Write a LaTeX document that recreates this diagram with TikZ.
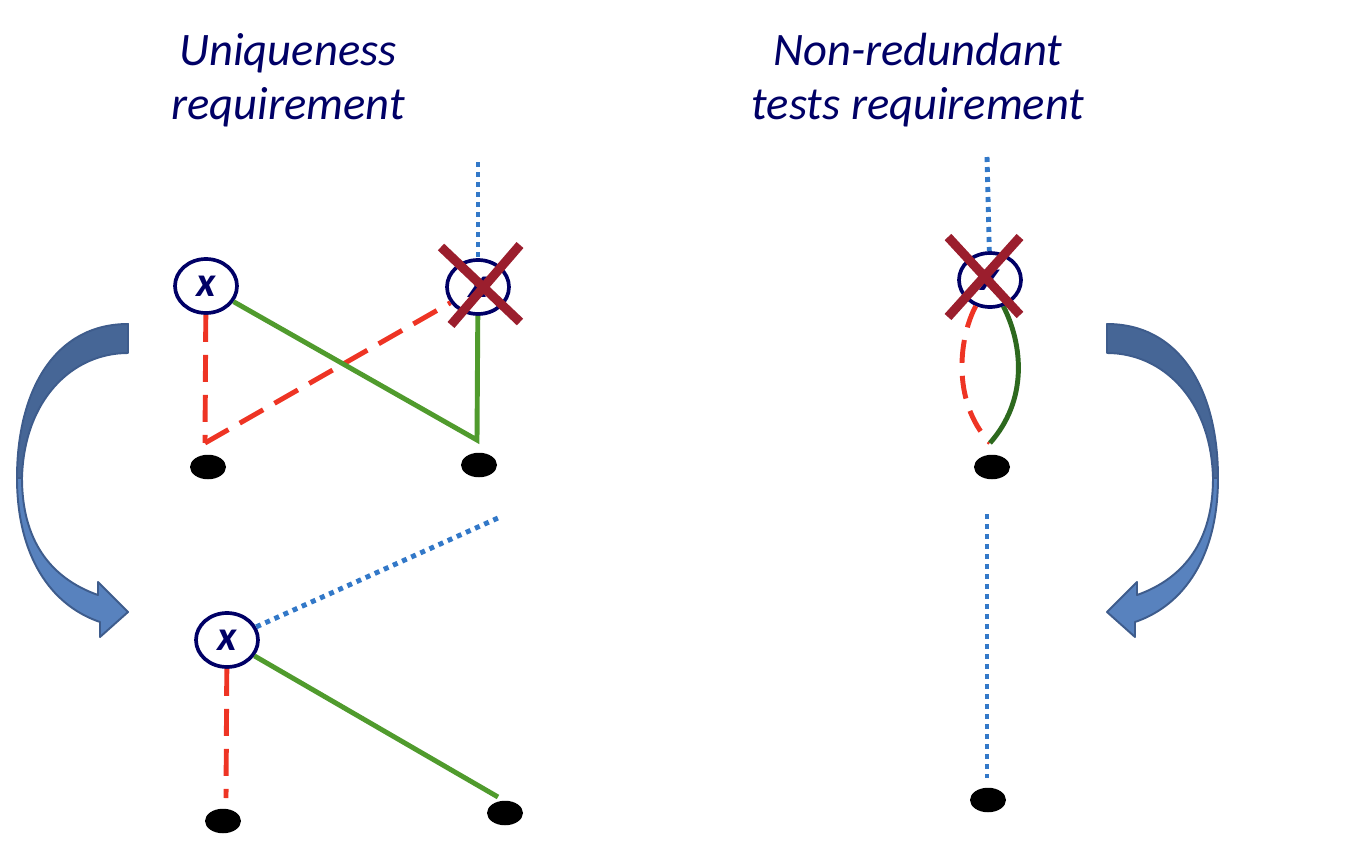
\documentclass[tikz,border=0pt]{standalone}
\usepackage{fontspec}
\setmainfont{Carlito}
\usetikzlibrary{shapes.geometric}

\definecolor{navytext}{RGB}{0,0,102}
\definecolor{dashred}{RGB}{238,52,36}
\definecolor{linegreen}{RGB}{80,155,45}
\definecolor{darkgreen}{RGB}{45,105,30}
\definecolor{dotblue}{RGB}{50,120,200}
\definecolor{crossred}{RGB}{155,30,45}
\definecolor{arrowdark}{RGB}{70,102,150}
\definecolor{arrowlight}{RGB}{88,130,190}
\definecolor{arrowedge}{RGB}{62,92,140}

\tikzset{
  varnode/.style={ellipse, draw=navytext, line width=2.1pt, minimum width=12.4mm,
    minimum height=10.8mm, inner sep=0pt, text=navytext,
    font=\fontsize{24}{24}\selectfont\bfseries\itshape},
  leaf/.style={ellipse, fill=black, minimum width=7.2mm, minimum height=4.9mm, inner sep=0pt},
  reddash/.style={draw=dashred, line width=2.8pt, dash pattern=on 5.4mm off 2.6mm},
  greenline/.style={draw=linegreen, line width=2.8pt},
  bluedot/.style={draw=dotblue, line width=2.8pt, dash pattern=on 1mm off 1mm},
  crossout/.style={draw=crossred, line width=5.2pt},
  heading/.style={text=navytext, align=center, font=\fontsize{26.5}{31}\selectfont\itshape},
  bendpart/.style={draw=arrowedge, line width=1.1pt, line join=round},
}

% the bent block arrow, drawn in pixel units
\newcommand{\bentarrow}{%
  \filldraw[bendpart, fill=arrowdark] (128,324) .. controls (55,324) and (17,390) .. (17,478)
    -- (22,478) .. controls (24,400) and (72,353) .. (128,353) -- cycle;
  \filldraw[bendpart, fill=arrowlight] (17,478) .. controls (17,555) and (50,605) .. (100,622)
    -- (100,637) -- (128,612) -- (98,582) -- (98,595)
    .. controls (50,578) and (22,540) .. (22,478) -- cycle;
}

\begin{document}
\begin{tikzpicture}[x=0.2mm, y=-0.2mm]
  \useasboundingbox (0,0) rectangle (1348,864);

  % headings
  \node[heading] (uniq) at (288,80) {Uniqueness\\requirement};
  \node[heading] (nonred) at (918,80) {Non-redundant\\tests requirement};

  % left, top
  \node[varnode] (x1) at (206,286) {x};
  \node[varnode] (x2) at (478,287) {x};
  \node[leaf] (d1) at (208,467) {};
  \node[leaf] (d2) at (479,465) {};
  \coordinate (j1) at (205,443);
  \coordinate (j2) at (477,440);
  \coordinate (t2) at (478,162);
  \draw[reddash] (x1) -- (j1);
  \draw[reddash] (j1) -- (x2);
  \draw[greenline] (x1) -- (j2) -- (x2);
  \draw[bluedot] (t2) -- (x2);
  \draw[crossout] ([shift={(-37,-40)}]x2.center) -- ([shift={(42,35)}]x2.center);
  \draw[crossout] ([shift={(42,-42)}]x2.center) -- ([shift={(-27,38)}]x2.center);

  % left, bottom
  \node[varnode] (x4) at (227,640) {x};
  \node[leaf] (d4) at (223,821) {};
  \node[leaf] (d5) at (505,813) {};
  \coordinate (j4) at (226,798);
  \coordinate (j5) at (498,797);
  \coordinate (t4) at (498,518);
  \draw[reddash] (x4) -- (j4);
  \draw[greenline] (x4) -- (j5);
  \draw[bluedot] (x4) -- (t4);

  % right, top
  \node[varnode] (x3) at (990,280) {x};
  \node[leaf] (d3) at (992,467) {};
  \coordinate (j3) at (990,443);
  \coordinate (t3) at (987,157);
  \draw[bluedot] (t3) -- (x3);
  \draw[reddash, dash pattern=on 4.6mm off 2.6mm] (x3) .. controls (960,335) and (950,400) .. (j3);
  \draw[draw=darkgreen, line width=2.8pt] (x3) .. controls (1023,345) and (1028,400) .. (j3);
  \draw[crossout] ([shift={(-42,-43)}]x3.center) -- ([shift={(30,35)}]x3.center);
  \draw[crossout] ([shift={(30,-43)}]x3.center) -- ([shift={(-42,37)}]x3.center);

  % right, bottom
  \node[leaf] (d6) at (988,800) {};
  \coordinate (b5) at (987,514);
  \coordinate (b6) at (987,778);
  \draw[bluedot] (b5) -- (b6);

  % bent arrows
  \bentarrow
  \begin{scope}[shift={(1235,0)}, xscale=-1]
    \bentarrow
  \end{scope}
\end{tikzpicture}
\end{document}
